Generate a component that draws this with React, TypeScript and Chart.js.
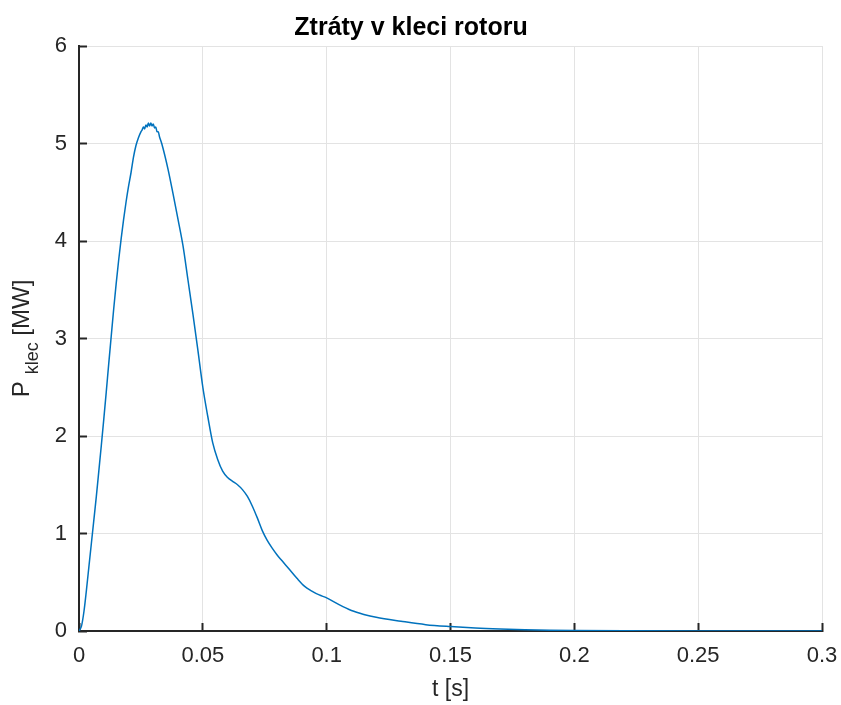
import { useEffect, useRef } from "react";
import { Chart, registerables } from "chart.js";

Chart.register(...registerables);

const FONT = "'Liberation Sans', Arial, Helvetica, sans-serif";

const titleText = "Ztráty v kleci rotoru";
const xAxisLabel = "t [s]";
const yLabelMain = "P";
const yLabelSub = "klec";
const yLabelUnit = " [MW]";

const xTicks = [0, 0.05, 0.1, 0.15, 0.2, 0.25, 0.3];
const yTicks = [0, 1, 2, 3, 4, 5, 6];

const timeS = [
  0, 0.001, 0.002, 0.003, 0.004, 0.005, 0.006, 0.007, 0.008, 0.009,
  0.01, 0.011, 0.012, 0.013, 0.014, 0.015, 0.016, 0.017, 0.018, 0.019,
  0.02, 0.021, 0.022, 0.023, 0.024, 0.025, 0.0255, 0.026, 0.0265, 0.027,
  0.0275, 0.028, 0.0285, 0.029, 0.0295, 0.03, 0.0305, 0.031, 0.0315, 0.032,
  0.0325, 0.0334, 0.036, 0.038, 0.04, 0.042, 0.044, 0.046, 0.048, 0.05,
  0.052, 0.054, 0.056, 0.058, 0.06, 0.062, 0.064, 0.066, 0.068, 0.07,
  0.072, 0.074, 0.076, 0.078, 0.08, 0.082, 0.085, 0.088, 0.091, 0.094,
  0.097, 0.1, 0.105, 0.11, 0.115, 0.12, 0.13, 0.14, 0.15, 0.16,
  0.17, 0.18, 0.19, 0.2, 0.22, 0.25, 0.3,
];

const pKlecMW = [
  0, 0.05, 0.2, 0.42, 0.66, 0.9, 1.14, 1.38, 1.64, 1.9,
  2.17, 2.45, 2.74, 3.02, 3.3, 3.56, 3.8, 4.02, 4.22, 4.4,
  4.56, 4.7, 4.86, 4.98, 5.06, 5.12, 5.14, 5.17, 5.15, 5.19,
  5.17, 5.21, 5.18, 5.21, 5.18, 5.2, 5.16, 5.17, 5.12, 5.12,
  5.07, 5.0, 4.73, 4.48, 4.22, 3.95, 3.6, 3.25, 2.88, 2.5,
  2.2, 1.93, 1.76, 1.64, 1.575, 1.535, 1.5, 1.45, 1.38, 1.28,
  1.16, 1.03, 0.93, 0.85, 0.78, 0.72, 0.63, 0.54, 0.46, 0.41,
  0.37, 0.34, 0.27, 0.21, 0.17, 0.14, 0.1, 0.065, 0.045, 0.03,
  0.02, 0.013, 0.008, 0.005, 0.002, 0.0005, 0,
];

const yLabelPlugin = {
  id: "yLabelPlugin",
  afterDraw(chart: any) {
    const ctx = chart.ctx as CanvasRenderingContext2D;
    const area = chart.chartArea;
    const cy = (area.top + area.bottom) / 2;
    ctx.save();
    ctx.translate(29, cy);
    ctx.rotate(-Math.PI / 2);
    ctx.fillStyle = "#262626";
    ctx.textBaseline = "alphabetic";
    ctx.textAlign = "left";
    const mainFont = `24px ${FONT}`;
    const subFont = `18px ${FONT}`;
    ctx.font = mainFont;
    const wP = ctx.measureText(yLabelMain).width;
    const wU = ctx.measureText(yLabelUnit).width;
    ctx.font = subFont;
    const wS = ctx.measureText(yLabelSub).width;
    const gap = 7;
    const total = wP + gap + wS + wU;
    let x = -total / 2;
    ctx.font = mainFont;
    ctx.fillText(yLabelMain, x, 0);
    x += wP + gap;
    ctx.font = subFont;
    ctx.fillText(yLabelSub, x, 9);
    x += wS;
    ctx.font = mainFont;
    ctx.fillText(yLabelUnit, x, 0);
    ctx.restore();
  },
};

export default function App() {
  const canvasRef = useRef<HTMLCanvasElement | null>(null);

  useEffect(() => {
    document.body.style.margin = "0";
    const canvas = canvasRef.current;
    if (!canvas) return;
    const data = timeS.map((t, i) => ({ x: t, y: pKlecMW[i] }));
    const chart = new Chart(canvas, {
      type: "line",
      data: {
        datasets: [
          {
            data,
            borderColor: "#0072BD",
            borderWidth: 1.5,
            pointRadius: 0,
            fill: false,
            cubicInterpolationMode: "monotone",
          },
        ],
      },
      options: {
        animation: false,
        responsive: false,
        maintainAspectRatio: false,
        devicePixelRatio: 1,
        layout: { padding: { left: 0, right: 19, top: 0, bottom: 0 } },
        plugins: {
          legend: { display: false },
          tooltip: { enabled: false },
          title: {
            display: true,
            text: titleText,
            color: "#000000",
            font: { family: FONT, size: 25, weight: "bold", lineHeight: 1.2 },
            padding: { top: 13, bottom: 3 },
          },
        },
        scales: {
          x: {
            type: "linear",
            min: 0,
            max: 0.3,
            afterBuildTicks: (scale: any) => {
              scale.ticks = xTicks.map((v) => ({ value: v }));
            },
            afterFit: (scale: any) => {
              scale.height = 74;
              scale.paddingLeft = 0;
              scale.paddingRight = 0;
            },
            ticks: {
              color: "#262626",
              font: { family: FONT, size: 22 },
              padding: 20,
              maxRotation: 0,
              autoSkip: false,
              callback: (v: any) => String(Number(Number(v).toFixed(4))),
            },
            grid: {
              color: "#e3e3e3",
              lineWidth: 1,
              drawTicks: true,
              tickLength: -8,
              tickColor: "#262626",
              tickWidth: 2,
            },
            border: { display: true, color: "#262626", width: 2 },
            title: {
              display: true,
              text: xAxisLabel,
              color: "#262626",
              font: { family: FONT, size: 23 },
              padding: { top: 0, bottom: 2 },
            },
          },
          y: {
            type: "linear",
            min: 0,
            max: 6,
            afterBuildTicks: (scale: any) => {
              scale.ticks = yTicks.map((v) => ({ value: v }));
            },
            afterFit: (scale: any) => {
              scale.width = 79;
              scale.paddingTop = 0;
              scale.paddingBottom = 0;
            },
            ticks: {
              color: "#262626",
              font: { family: FONT, size: 22 },
              padding: 20,
              autoSkip: false,
              callback: (v: any) => String(v),
            },
            grid: {
              color: "#e3e3e3",
              lineWidth: 1,
              drawTicks: true,
              tickLength: -8,
              tickColor: "#262626",
              tickWidth: 2,
            },
            border: { display: true, color: "#262626", width: 2 },
          },
        },
      },
      plugins: [yLabelPlugin],
    } as any);
    return () => chart.destroy();
  }, []);

  return (
    <div style={{ width: 841, height: 705, background: "#ffffff" }}>
      <canvas ref={canvasRef} width={841} height={705} style={{ display: "block", width: 841, height: 705 }} />
    </div>
  );
}
